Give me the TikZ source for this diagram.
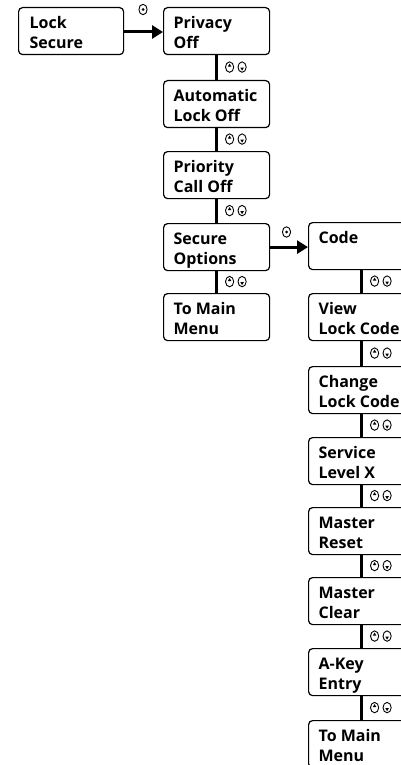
\documentclass[tikz,border=0pt]{standalone}
\usepackage{fontspec}
\setmainfont{Open Sans}
\usetikzlibrary{arrows.meta,calc}
\newcommand{\bxtext}[3][86pt]{\parbox[c][47pt][t]{#1}{\raggedright\rule{0pt}{21pt}#2\\#3}}
\begin{document}
\begin{tikzpicture}[x=1pt,y=-1pt,
  box/.style={draw=black, line width=1.2pt, rounded corners=4pt, anchor=north west,
    inner xsep=10pt, inner ysep=0pt,
    font=\fontsize{16}{20}\selectfont\bfseries},
  conn/.style={line width=3pt},
  arr/.style={line width=3pt, -{Triangle[length=11pt,width=13pt]}},
  sym/.style={line width=0.9pt},
  updn/.pic={
    \draw[sym] (13,0) ellipse (4.1 and 5.2);
    \fill (11.2,-0.5) -- (14.8,-0.5) -- (13,-3.5) -- cycle;
    \draw[sym] (25.5,0) ellipse (4.1 and 5.2);
    \fill (23.7,0.5) -- (27.3,0.5) -- (25.5,3.5) -- cycle;
  },
  selb/.pic={
    \draw[sym] (0,0) ellipse (4.1 and 5.2);
    \fill (0,0) circle (1.5);
  }]
\useasboundingbox (0,0) rectangle (401,765);
\clip (0,0) rectangle (401,765);
\fill[white] (0,0) rectangle (401,765);

% left column
\node[box, inner xsep=11pt] (ls) at (18,7) {\bxtext[83pt]{Lock}{Secure}};
\node[box] (priv) at (163,7) {\bxtext{Privacy}{Off}};
\node[box] (auto) at (163,80) {\bxtext{Automatic}{Lock Off}};
\node[box] (prio) at (163,151) {\bxtext{Priority}{Call Off}};
\node[box] (sec) at (163,223) {\bxtext{Secure}{Options}};
\node[box] (mm1) at (163,293) {\bxtext{To Main}{Menu}};

% right column
\node[box] (code) at (308,222) {\bxtext{Code}{}};
\node[box] (view) at (308,293) {\bxtext{View}{Lock Code}};
\node[box] (chg) at (308,366) {\bxtext{Change}{Lock Code}};
\node[box] (serv) at (308,437) {\bxtext{Service}{Level X}};
\node[box] (mres) at (308,507) {\bxtext{Master}{Reset}};
\node[box] (mclr) at (308,577) {\bxtext{Master}{Clear}};
\node[box] (akey) at (308,648) {\bxtext{A-Key}{Entry}};
\node[box] (mm2) at (308,720) {\bxtext{To Main}{Menu}};

% horizontal arrows
\draw[arr] (ls.east |- 0,32) -- (priv.west |- 0,32);
\draw[arr] (sec.east) -- (code.west |- sec.east);
\path (143,9.5) pic {selb};
\path (286.5,232) pic {selb};

% vertical connectors
\foreach \a/\b in {priv/auto, auto/prio, prio/sec, sec/mm1,
                   code/view, view/chg, chg/serv, serv/mres, mres/mclr, mclr/akey, akey/mm2}{
  \draw[conn] (\a.south) -- (\b.north);
  \path ($(\a.south)!0.5!(\b.north)$) ++(0,-0.5) pic {updn};
}
\end{tikzpicture}
\end{document}
